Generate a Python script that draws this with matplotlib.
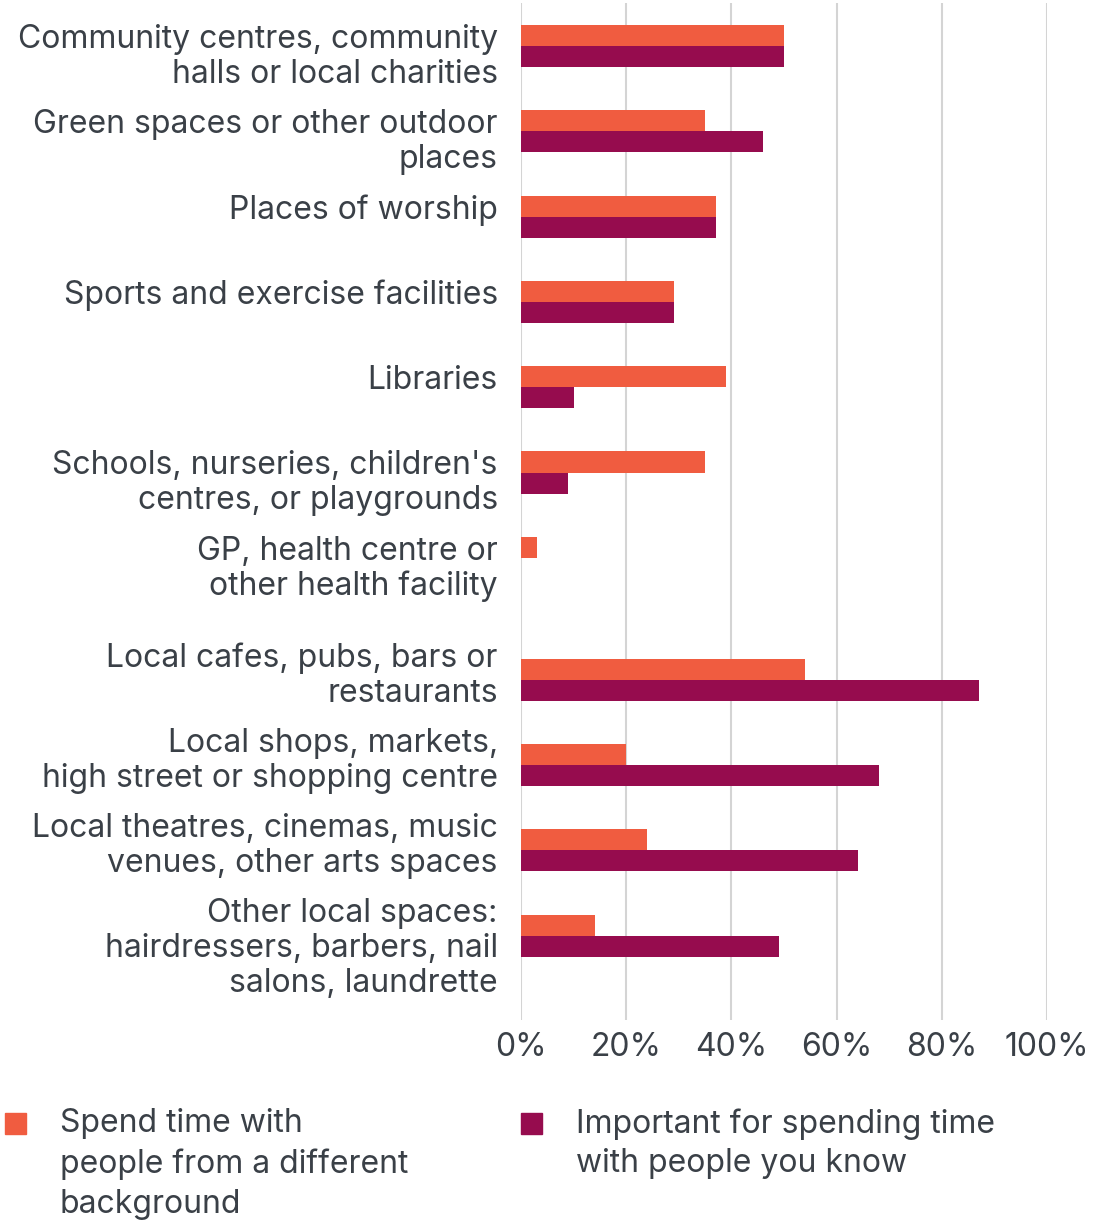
import numpy as np
import matplotlib.pyplot as plt
from matplotlib.patches import Rectangle

# Places and share of respondents (%)
places = [
    "Community centres, community\nhalls or local charities",
    "Green spaces or other outdoor\nplaces",
    "Places of worship",
    "Sports and exercise facilities",
    "Libraries",
    "Schools, nurseries, children's\ncentres, or playgrounds",
    "GP, health centre or\nother health facility",
    "Local cafes, pubs, bars or\nrestaurants",
    "Local shops, markets,\nhigh street or shopping centre",
    "Local theatres, cinemas, music\nvenues, other arts spaces",
    "Other local spaces:\nhairdressers, barbers, nail\nsalons, laundrette",
]
different_bg = [50, 35, 37, 29, 39, 35, 3, 54, 20, 24, 14]
people_known = [50, 46, 37, 29, 10, 9, 0, 87, 68, 64, 49]

series_names = ["Spend time with\npeople from a different\nbackground",
                "Important for spending time\nwith people you know"]
xticks = [0, 20, 40, 60, 80, 100]

ORANGE = "#f05c40"
PURPLE = "#960c4e"
TEXT = "#3a4047"
GRID = "#d4d4d4"

plt.rcParams['font.family'] = ['Inter', 'DejaVu Sans']
FS = 23

fig = plt.figure(figsize=(11, 12.2), dpi=100)
ax = fig.add_axes([521 / 1100, 1 - 1020 / 1220, (1047 - 521) / 1100, (1020 - 3) / 1220])

# second block of places sits a bit lower
pos = np.arange(len(places), dtype=float)
pos[7:] += 0.43
h = 0.247

ax.barh(pos - h / 2, different_bg, height=h, color=ORANGE, zorder=2)
ax.barh(pos + h / 2, people_known, height=h, color=PURPLE, zorder=2)

ax.set_xlim(0, 100)
ax.set_ylim(pos[-1] + 0.99, -0.506)
ax.set_xticks(xticks)
ax.set_xticklabels([f"{v}%" for v in xticks], fontsize=FS, color=TEXT)
ax.set_yticks([])
ax.tick_params(axis='x', length=0, pad=9)
for s in ax.spines.values():
    s.set_visible(False)
ax.grid(axis='x', color=GRID, linewidth=1.5, zorder=0)

for i, (p, lab) in enumerate(zip(pos, places)):
    shift = -0.26 if i < 7 else -0.44
    ax.text(-4.4, p + shift, lab, ha='right', va='top', fontsize=FS,
            color=TEXT, linespacing=1.17)

# legend drawn by hand
for x0, col, name in [(5, ORANGE, series_names[0]), (521, PURPLE, series_names[1])]:
    fig.patches.append(Rectangle((x0 / 1100, 1 - 1134 / 1220), 21 / 1100, 21 / 1220,
                                 transform=fig.transFigure, color=col))
    fig.text((x0 + 55) / 1100, 1 - 1108 / 1220, name, ha='left', va='top',
             fontsize=FS, color=TEXT, linespacing=1.37)

fig.savefig("out.png", dpi=100)
